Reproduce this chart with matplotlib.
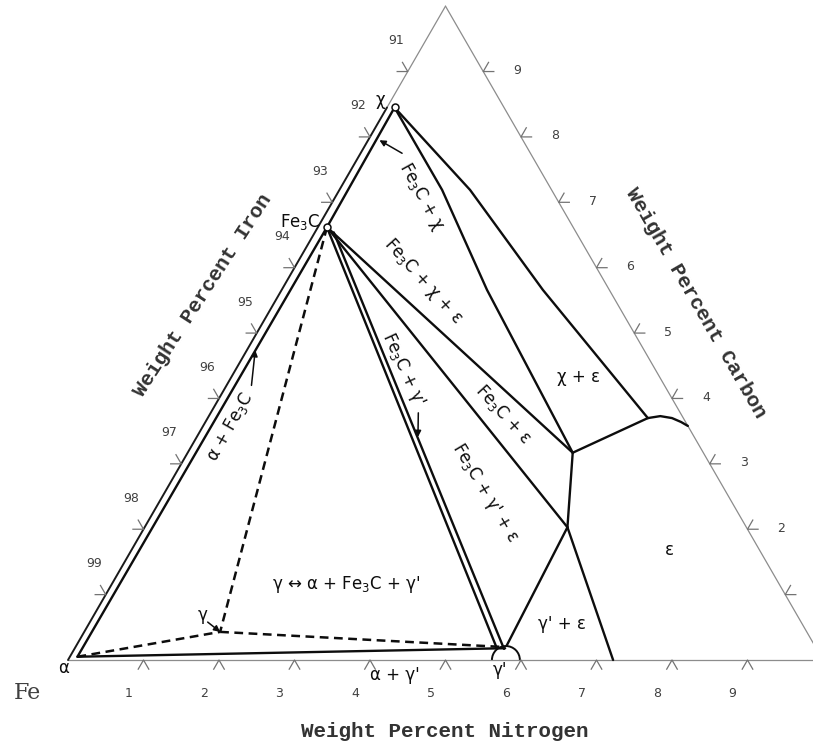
import numpy as np
import matplotlib.pyplot as plt
from matplotlib.patches import Arc

S3 = np.sqrt(3) / 2

# invariant points of the Fe-C-N isothermal section (wt% N, wt% C)
alpha = (0.10, 0.05)
gamma = (1.80, 0.43)
gamma_p = (5.70, 0.18)
fe3c = (0.12, 6.62)
chi = (0.10, 8.45)
p1 = (5.10, 3.17)
p2 = (5.60, 2.03)
p3 = (5.83, 3.70)

# phase boundaries (wt% N, wt% C)
alpha_fe3c = [alpha, fe3c, chi]
alpha_gp = [alpha, gamma_p]
fe3c_gp_a = [(0.17, 6.56), (5.59, 0.18)]
fe3c_gp_b = [(0.25, 6.54), (5.69, 0.17)]
fe3c_p1 = [fe3c, p1]
fe3c_p2 = [fe3c, p2]
chi_p1 = [chi, (1.36, 7.19), (2.72, 5.66), p1]
chi_p3 = [chi, (1.73, 7.19), (3.46, 5.66), p3]
p1_p3 = [p1, p3]
p3_edge = [p3, (5.98, 3.73), (6.15, 3.70), (6.30, 3.64), (6.42, 3.58)]
p1_p2 = [p1, p2]
p2_gp = [p2, (5.70, 0.22)]
p2_base = [p2, (7.22, 0.0)]

# dashed eutectoid triangle
gamma_fe3c = [fe3c, gamma]
gamma_alpha = [alpha, gamma]
gamma_gp = [gamma, (5.65, 0.20)]

gp_arc = (5.80, 0.0)

ticks = [1, 2, 3, 4, 5, 6, 7, 8, 9]
iron_labels = ['99', '98', '97', '96', '95', '94', '93', '92', '91']
carbon_labels = ['', '2', '3', '4', '5', '6', '7', '8', '9']  # 1 falls off the page


def tern(n, c):
    n = np.asarray(n, float)
    c = np.asarray(c, float)
    return n + c / 2, c * S3


def line(ax, pts, **kw):
    n, c = zip(*pts)
    x, y = tern(n, c)
    ax.plot(x, y, solid_capstyle='round', **kw)


fig = plt.figure(figsize=(8.13, 7.46), dpi=100)
ax = fig.add_axes([0, 0, 1, 1])
sc = 75.5
ax.set_xlim(-68 / sc, (813 - 68) / sc)
ax.set_ylim((660 - 746) / sc, 660 / sc)
ax.axis('off')

edge = dict(color='0.55', lw=0.9)
line(ax, [(0, 0), (10, 0)], **edge)
line(ax, [(10, 0), (0, 10)], **edge)
line(ax, [(0, 10), (0, chi[1])], **edge)
line(ax, [(0, 0), (0, chi[1])], color='0.1', lw=1.4)

# chevron ticks
arm = 0.14
tick_kw = dict(color='0.45', lw=0.9)
for k, lab, clab in zip(ticks, iron_labels, carbon_labels):
    for (n, c), angs, off, txt in [
        ((k, 0), (240, 300), (-10.8, -23.8), str(k)),
        ((0, k), (180, 120), (-8.6, 22.3), lab),
        ((10 - k, k), (0, 60), (24.5, 0.7), clab),
    ]:
        x, y = tern(n, c)
        a1, a2 = np.radians(angs)
        ax.plot([x + arm * np.cos(a1), x, x + arm * np.cos(a2)],
                [y + arm * np.sin(a1), y, y + arm * np.sin(a2)], **tick_kw)
        if txt:
            ax.annotate(txt, (x, y), xytext=off, textcoords='offset points',
                        ha='center', va='center', fontsize=9, color='0.25')

bk = dict(color='0.05', lw=1.7)
for b in [alpha_fe3c, alpha_gp, fe3c_gp_a, fe3c_gp_b, fe3c_p1, fe3c_p2,
          chi_p1, chi_p3, p1_p3, p3_edge, p1_p2, p2_gp, p2_base]:
    line(ax, b, **bk)

dash = dict(color='0.05', lw=1.8, linestyle=(0, (3.5, 2.2)))
for b in [gamma_fe3c, gamma_alpha, gamma_gp]:
    line(ax, b, **dash)

ax.add_patch(Arc(tern(*gp_arc), 0.37, 0.37, theta1=0, theta2=180,
                 color='0.05', lw=1.4))
for p in [chi, fe3c]:
    x, y = tern(*p)
    ax.plot(x, y, 'o', ms=5, mfc='white', mec='0.05', mew=1.1)

# arrows to the narrow fields
arr = dict(arrowstyle='-|>', color='0.05', lw=1.1, mutation_scale=9,
           shrinkA=0, shrinkB=0)
for start, end in [((0.33, 4.20), (0.11, 4.74)),
                   ((0.55, 7.75), (0.15, 7.95)),
                   ((2.75, 3.78), (2.93, 3.41)),
                   ((1.56, 0.58), gamma)]:
    ax.annotate('', xy=tern(*end), xytext=tern(*start), arrowprops=arr)

lab = dict(ha='center', va='center', fontsize=12, color='0.05')
fields = [
    ("Fe$_3$C", (-0.28, 6.70), 0),
    ("χ", (-0.15, 8.57), 0),
    ("Fe$_3$C + χ", (1.14, 7.08), -61),
    ("Fe$_3$C + χ + ε", (1.80, 5.80), -48),
    ("χ + ε", (4.59, 4.33), 0),
    ("Fe$_3$C + ε", (3.88, 3.76), -47.5),
    ("Fe$_3$C + γ'", (2.22, 4.44), -65),
    ("Fe$_3$C + γ' + ε", (4.25, 2.55), -59),
    ("γ' + ε", (6.27, 0.55), 0),
    ("ε", (7.13, 1.68), 0),
    ("γ ↔ α + Fe$_3$C + γ'", (3.11, 1.15), 0),
    ("α + Fe$_3$C", (0.36, 3.56), 60.5),
    ("γ", (1.44, 0.69), 0),
    ("γ'", (5.80, -0.15), 0),
    ("α + γ'", (4.45, -0.23), 0),
    ("α", (0.0, -0.12), 0),
]
for txt, (n, c), rot in fields:
    x, y = tern(n, c)
    ax.text(x, y, txt, rotation=rot, rotation_mode='anchor', **lab)

ttl = dict(ha='center', va='center', fontsize=15, color='0.2',
           family='Liberation Mono', weight='bold', rotation_mode='anchor')
for txt, (n, c), rot in [("Weight Percent Nitrogen", (5.54, -1.10), 0),
                         ("Weight Percent Iron", (-1.00, 5.58), 57),
                         ("Weight Percent Carbon", (5.58, 5.46), -60)]:
    x, y = tern(n, c)
    ax.text(x, y, txt, rotation=rot, **ttl)

x, y = tern(-0.29, -0.50)
ax.text(x, y, "Fe", ha='center', va='center', fontsize=16,
        family='DejaVu Serif', color='0.25')

fig.savefig('out.png', dpi=100)
